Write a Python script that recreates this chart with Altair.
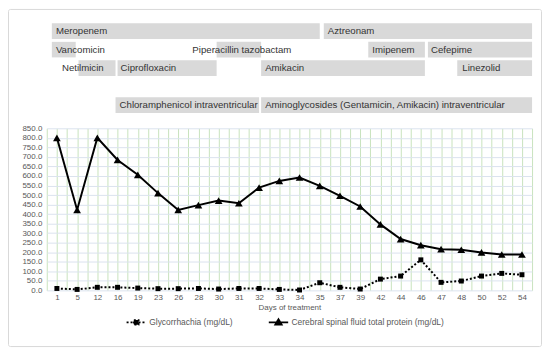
import json
import altair as alt
import pandas as pd

# ---- data ----
days = ["1", "5", "12", "16", "19", "23", "26", "28", "30", "31", "32", "33",
        "34", "35", "37", "39", "42", "44", "46", "47", "48", "50", "52", "54"]
protein = [800, 422, 800, 684, 606, 510, 422, 447, 471, 457, 539, 574,
           592, 548, 496, 440, 346, 269, 237, 216, 213, 199, 188, 188]
glyco = [10, 5, 16, 16, 12, 9, 9, 10, 7, 10, 10, 5,
         2, 40, 16, 7, 59, 75, 160, 42, 49, 75, 89, 82]
series_names = ["Glycorrhachia (mg/dL)", "Cerebral spinal fluid total protein (mg/dL)"]

drugs = ["Meropenem", "Aztreonam", "Vancomicin", "Piperacillin tazobactam", "Imipenem",
         "Cefepime", "Netilmicin", "Ciprofloxacin", "Amikacin", "Linezolid",
         "Chloramphenicol intraventricular",
         "Aminoglycosides (Gentamicin, Amikacin) intraventricular"]
drug_row = [1, 1, 2, 2, 2, 2, 3, 3, 3, 3, 5, 5]
drug_start = [-0.25, 13.2, -0.25, 7.9, 15.4, 18.35, 1.07, 3.0, 10.1, 19.8, 2.9, 10.1]
drug_end = [13.0, 23.5, 0.93, 10.1, 18.2, 23.5, 2.9, 7.9, 18.2, 23.5, 10.0, 23.5]
label_start = [-0.05, 13.4, -0.05, 6.7, 15.6, 18.5, 0.25, 3.15, 10.3, 20.05, 3.1, 10.3]

# ---- tables ----
n = len(days)
df = pd.DataFrame({
    "idx": list(range(n)) * 2,
    "value": glyco + protein,
    "series": [series_names[0]] * n + [series_names[1]] * n,
})
df_drugs = pd.DataFrame({"drug": drugs, "row": drug_row, "start": drug_start,
                         "end": drug_end, "lab": label_start})
df_drugs["top"] = df_drugs["row"] - 0.42
df_drugs["bot"] = df_drugs["row"] + 0.42

W, H_TOP, H_BOT = 488, 93, 163
FONT = "Liberation Sans"
GRAY = "#595959"

xs = alt.Scale(domain=[-0.5, n - 0.5], nice=False, zero=False)
ys_top = alt.Scale(domain=[0.5, 5.5], reverse=True, nice=False, zero=False)

# ---- top panel: treatment bars ----
boxes = alt.Chart(df_drugs).mark_rect(color="#d9d9d9").encode(
    x=alt.X("start:Q", scale=xs, axis=None),
    x2="end:Q",
    y=alt.Y("top:Q", scale=ys_top, axis=None),
    y2="bot:Q",
)
texts = alt.Chart(df_drugs).mark_text(
    align="left", baseline="middle", font=FONT, fontSize=9.7, color="#333333"
).encode(
    x=alt.X("lab:Q", scale=xs, axis=None),
    y=alt.Y("row:Q", scale=ys_top, axis=None),
    text="drug:N",
)
top = (boxes + texts).properties(width=W, height=H_TOP)

# ---- bottom panel: lab values ----
grid_vals = [i * 0.5 - 0.5 for i in range(2 * n + 1)]
label_expr = "(datum.value % 1 == 0) ? " + json.dumps(days) + "[datum.value] : ''"

x_enc = alt.X(
    "idx:Q", scale=xs,
    axis=alt.Axis(values=grid_vals, labelExpr=label_expr, grid=True, gridColor="#c9e3bd",
                  ticks=False, domain=False, labelColor=GRAY, labelFontSize=8,
                  labelFont=FONT, labelOverlap=False, labelFlush=False, labelPadding=3,
                  title="Days of treatment", titleColor=GRAY, titleFont=FONT,
                  titleFontSize=8, titleFontWeight="normal", titlePadding=2),
)
y_enc = alt.Y(
    "value:Q", scale=alt.Scale(domain=[0, 850], nice=False),
    axis=alt.Axis(values=list(range(0, 851, 50)), format=".1f", grid=True,
                  gridColor="#dbe3ee", ticks=False, domain=False, labelColor=GRAY,
                  labelFontSize=8, labelFont=FONT, labelPadding=5, title=None),
)

base = alt.Chart(df).encode(x=x_enc, y=y_enc)
g_line = base.transform_filter(alt.datum.series == series_names[0]).mark_line(
    color="black", strokeWidth=2, strokeDash=[2, 2])
g_pts = base.transform_filter(alt.datum.series == series_names[0]).mark_point(
    shape="square", filled=True, size=25, color="black", opacity=1)
p_line = base.transform_filter(alt.datum.series == series_names[1]).mark_line(
    color="black", strokeWidth=2)
p_pts = base.transform_filter(alt.datum.series == series_names[1]).mark_point(
    shape="triangle-up", filled=True, size=60, color="black", opacity=1)

# legend: line + marker symbols
sq_path = "M-1,0L1,0M-0.25,-0.25L0.25,-0.25L0.25,0.25L-0.25,0.25Z"
tri_path = "M-1,0L1,0M0,-0.35L0.35,0.25L-0.35,0.25Z"
leg = alt.Legend(title=None, orient="none", legendX=79, legendY=291,
                 direction="horizontal", symbolSize=380, symbolStrokeWidth=1.6,
                 symbolOpacity=1,
                 labelFont=FONT, labelFontSize=8.5, labelColor=GRAY, labelLimit=400,
                 labelOffset=2, columnPadding=32)
legend_layer = alt.Chart(df).transform_filter("false").mark_point(
    size=380, strokeWidth=1.6, opacity=1).encode(
    shape=alt.Shape("series:N", scale=alt.Scale(domain=series_names, range=[sq_path, tri_path]),
                    legend=leg),
    strokeDash=alt.StrokeDash("series:N",
                              scale=alt.Scale(domain=series_names, range=[[2, 2], [1, 0]]),
                              legend=leg),
    fill=alt.Fill("series:N", scale=alt.Scale(domain=series_names, range=["black", "black"]),
                  legend=leg),
    stroke=alt.Stroke("series:N", scale=alt.Scale(domain=series_names, range=["black", "black"]),
                      legend=leg),
)

# figure frame (decorative, positioned relative to the plot area)
frame = alt.Chart(df_drugs).transform_filter(alt.datum.drug == drugs[0]).mark_rect(
    fill=None, stroke="#d9d9d9", strokeWidth=1, cornerRadius=2
).encode(x=alt.value(-38.5), x2=alt.value(497.5), y=alt.value(-119.5), y2=alt.value(219.5))

bottom = alt.layer(frame, g_line, p_line, g_pts, p_pts, legend_layer).properties(
    width=W, height=H_BOT)

chart = alt.vconcat(top, bottom, spacing=14, bounds="flush").properties(
    padding={"left": 0, "top": 0, "right": 0, "bottom": 0}
).configure(font=FONT, view=alt.ViewConfig(stroke=None))

chart.save("out.html", embed_options={"renderer": "svg", "actions": False})
